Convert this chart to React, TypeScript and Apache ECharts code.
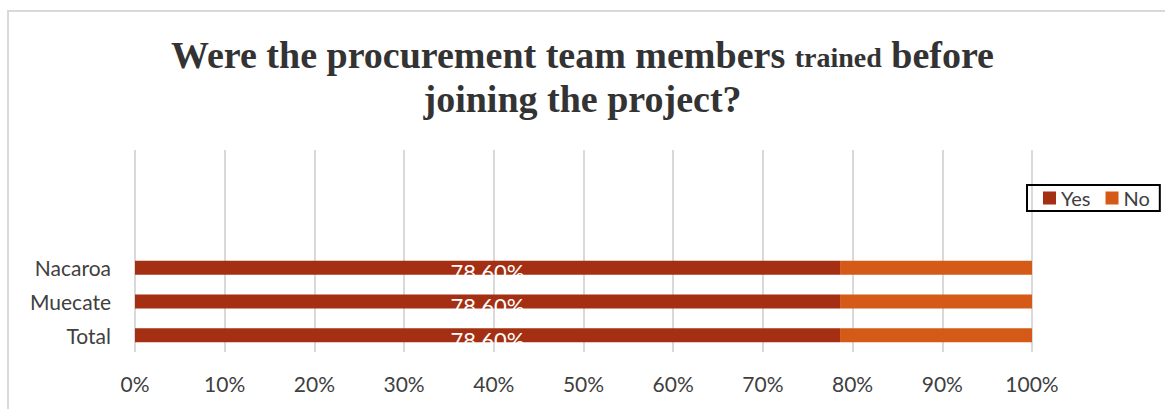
import React, { useEffect, useRef } from "react";
import * as echarts from "echarts";

// Regions, listed bottom to top as they appear on the category axis
const regions = ["Total", "Muecate", "Nacaroa"];
// Share of respondents answering "Yes" / "No" (percent)
const yesValues = [78.6, 78.6, 78.6];
const noValues = [21.4, 21.4, 21.4];
// Empty rows above the bars, leaving headroom under the title
const spacerRows = ["", "", ""];
const xTicks = [0, 10, 20, 30, 40, 50, 60, 70, 80, 90, 100];

const axisFont = "Lato, 'Open Sans', 'Liberation Sans', sans-serif";
const titleFont = "'Liberation Serif', 'Times New Roman', serif";

export default function App() {
  const ref = useRef<HTMLDivElement>(null);

  useEffect(() => {
    if (!ref.current) return;
    const chart = echarts.init(ref.current, undefined, { renderer: "svg" });

    chart.setOption({
      animation: false,
      backgroundColor: "#ffffff",
      graphic: [
        {
          type: "rect",
          shape: { x: 8, y: 11, width: 1200, height: 500 },
          style: { fill: "none", stroke: "#d9d9d9", lineWidth: 2 },
          silent: true,
          z: -1,
        },
      ],
      title: {
        text:
          "{a|Were the procurement team members }{b|trained}{a| before}\n{a|joining the project?}",
        left: "center",
        top: 30,
        padding: 0,
        textStyle: {
          rich: {
            a: {
              fontFamily: titleFont,
              fontWeight: "bold",
              fontSize: 38,
              lineHeight: 44,
              color: "#333333",
              verticalAlign: "bottom",
            },
            b: {
              fontFamily: titleFont,
              fontWeight: "bold",
              fontSize: 28,
              lineHeight: 36,
              padding: [0, 0, 3, 0],
              color: "#333333",
              verticalAlign: "bottom",
            },
          },
        },
      },
      legend: {
        data: ["Yes", "No"],
        left: 1027,
        top: 185,
        orient: "horizontal",
        icon: "rect",
        itemWidth: 13,
        itemHeight: 13,
        itemGap: 15,
        padding: [3, 10, 3, 16],
        borderColor: "#000000",
        borderWidth: 2,
        textStyle: { fontFamily: axisFont, fontSize: 20, color: "#404040" },
      },
      grid: { left: 135, right: 133, top: 150, bottom: 57 },
      xAxis: {
        type: "value",
        min: xTicks[0],
        max: xTicks[xTicks.length - 1],
        interval: xTicks[1] - xTicks[0],
        axisLine: { show: false },
        axisTick: { show: false },
        axisLabel: {
          formatter: (v: number) => `${v}%`,
          fontFamily: axisFont,
          fontSize: 21,
          color: "#404040",
          margin: 21,
        },
        splitLine: { show: true, lineStyle: { color: "#d9d9d9", width: 2 } },
      },
      yAxis: {
        type: "category",
        data: [...regions, ...spacerRows],
        axisLine: { show: false },
        axisTick: { show: false },
        axisLabel: {
          fontFamily: axisFont,
          fontSize: 21,
          color: "#404040",
          margin: 24,
        },
      },
      series: [
        {
          name: "Yes",
          type: "bar",
          stack: "total",
          data: yesValues,
          barWidth: 14,
          itemStyle: { color: "#a52f12" },
          label: {
            show: true,
            position: "inside",
            offset: [0, 4],
            formatter: (p: any) => `${p.value.toFixed(2)}%`,
            color: "#ffffff",
            fontFamily: axisFont,
            fontSize: 22,
          },
        },
        {
          name: "No",
          type: "bar",
          stack: "total",
          data: noValues,
          barWidth: 14,
          itemStyle: { color: "#d55a17" },
        },
      ],
    });

    return () => chart.dispose();
  }, []);

  return (
    <div
      ref={ref}
      style={{ position: "fixed", left: 0, top: 0, width: 1165, height: 409 }}
    />
  );
}
